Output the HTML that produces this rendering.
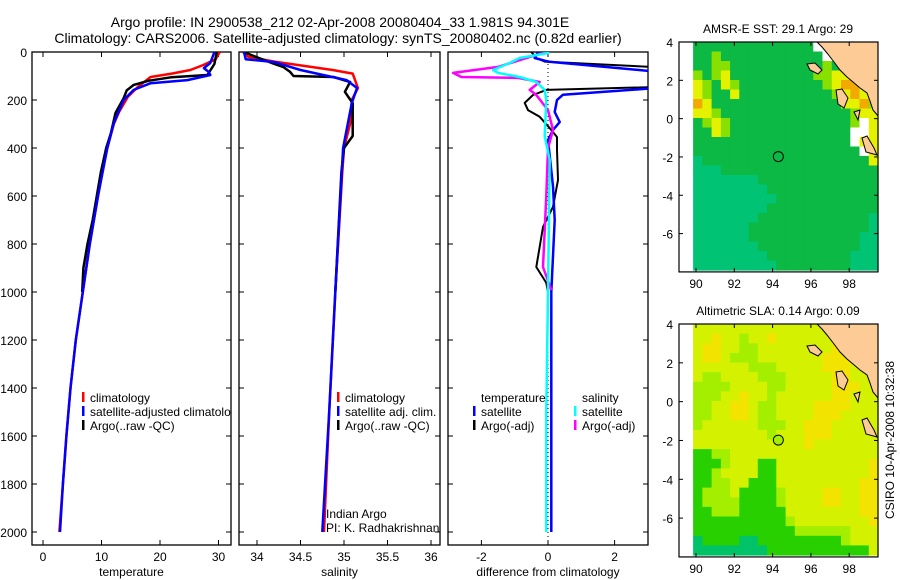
<!DOCTYPE html>
<html><head><meta charset="utf-8"><style>
html,body{margin:0;padding:0;background:#fff;}
svg{display:block;font-family:"Liberation Sans",sans-serif;}
text{font-size:12px;fill:#000;}
</style></head><body>
<svg id="fig" width="900" height="580" viewBox="0 0 900 580" xmlns="http://www.w3.org/2000/svg">
<defs>
<clipPath id="c1"><rect x="32" y="52" width="199" height="493"/></clipPath>
<clipPath id="c2"><rect x="239" y="52" width="201" height="493"/></clipPath>
<clipPath id="c3"><rect x="448" y="52" width="200" height="493"/></clipPath>
<clipPath id="m1"><rect x="679" y="42" width="199" height="230"/></clipPath>
<clipPath id="m2"><rect x="679" y="324" width="199" height="233"/></clipPath>
</defs>
<text x="340" y="27" text-anchor="middle" style="font-size:14px">Argo profile: IN 2900538_212 02-Apr-2008 20080404_33 1.981S 94.301E</text>
<text x="338" y="43" text-anchor="middle" style="font-size:14px">Climatology: CARS2006. Satellite-adjusted climatology: synTS_20080402.nc (0.82d earlier)</text>
<g id="g1"></g>
<g id="g2"></g>
<g id="g3"></g>
<g id="gm1"></g>
<g id="gm2"></g>
<text x="0" y="0" transform="translate(894,440) rotate(-90)" text-anchor="middle">CSIRO 10-Apr-2008 10:32:38</text>
</svg>
<script>
// ---- temperature data ----
const tClimDepth=[0,30,54,75,90,104,146,187,250,300,400,500,600,800,1000,1200,1400,1600,1800,2000];
const tClim=[30.2,29.5,27.4,25.2,22,18.4,16.2,14.5,13,12.1,11,10.1,9.4,8,6.8,5.6,4.7,4.0,3.4,2.8];
const tSatDepth=[0,46,67,83,96,117,130,158,200,296,400,600,800,1000,1200,1400,1600,1800,2000];
const tSat=[29.3,28.6,27.5,28.3,28.6,24.7,18.4,15.5,13.8,12.1,11,9.4,8,6.8,5.6,4.7,4.0,3.4,2.9];
const tArgoDepth=[0,50,96,105,120,137,160,192,254,338,400,500,600,700,800,900,1000];
const tArgo=[29.7,29.3,28.1,22,18,15.5,14.3,13.8,12.4,11.6,10.8,9.9,9.2,8.5,7.6,6.9,6.7];
// ---- salinity data ----
const sClimDepth=[0,20,40,75,90,150,200,300,400,500,1000,1500,2000];
const sClim=[33.84,33.9,34.2,34.87,35.1,35.16,35.09,35.07,35.0,34.98,34.9,34.83,34.77];
const sSatDepth=[0,30,42,75,117,150,213,400,1000,1500,2000];
const sSat=[33.85,33.87,34.2,34.5,35.03,35.15,35.09,34.99,34.9,34.83,34.75];
const sArgoDepth=[0,15,50,62,83,100,104,125,166,187,213,350,400,500,1000];
const sArgo=[33.85,33.95,34.2,34.3,34.38,34.42,34.88,35.07,35.01,35.05,35.1,35.1,35.0,34.97,34.9];
// ---- difference data ----
const dTSatDepth=[0,25,40,85,148,178,200,250,292,325,367,560,700,1000,1500,2000];
const dTSat=[-0.3,-0.4,0,3.5,3.5,0.45,0.27,0.2,0.35,0.15,0,0.15,0.2,0.1,0.1,0.1];
const dTArgoDepth=[0,25,40,65,145,158,179,212,242,270,317,354,408,533,645,729,896,962,1000];
const dTArgo=[-0.5,-0.35,-0.1,3.5,3.5,-0.05,-0.45,-0.7,-0.6,-0.25,0.05,0.27,0.27,0.3,0.15,-0.15,-0.35,-0.05,0];
const dSSatDepth=[0,4,25,46,75,87,104,125,158,200,350,450,1000,1500,2000];
const dSSat=[0,0,-0.85,-1.15,-1.65,-1.5,-0.85,-0.35,-0.1,-0.05,-0.1,0.05,0,-0.05,-0.05];
const dSArgoDepth=[0,12,62,87,104,108,125,158,179,242,325,400,600,896,992];
const dSArgo=[0,-0.35,-1.5,-2.85,-2.6,-0.9,-0.25,-0.55,-0.35,0,0.15,0,-0.05,-0.15,0.1];
// ---- tick labels ----
const depthTicks=[0,200,400,600,800,1000,1200,1400,1600,1800,2000];
const tTicks=[0,10,20,30];
const sTicks=[34,34.5,35,35.5,36];
const dTicks=[-2,0,2];
const lonTicks=[90,92,94,96,98];
const latTicks=[4,2,0,-2,-4,-6];
// ---- map grids (coded colour classes) ----
const sstGrid=["bbbbbbbbbbbbbwwwwwww","bbcbbbbbbbbbbbwwwwww","bbccbbbbbbbbbbcbbrrw","cbcybbbbbbbbbccyyroy","ycbycbbbbbbbbbcyooyc","ycbbybbbbbbbbbbcyoyc","oybbbbbbbbbbbbbbyyoc","yycbbbbbbbbbbbbbbcyy","bcycbbbbbbbbbbbbbcwy","bbycbbbbbbbbbbbbbwwy","bbbbbbbbbbbbbbbbbwyy","bbbbbbbbbbbbbbbbbbwy","abbbbbbbbbbbbbbbbbby","aaabbbbbbbbbbbbbbbbb","aaaaaaabbbbbbbbbbbbb","aaaaaaaabbbbbbbbbbbb","aaaaaaaaabbbbbbbbbbb","aaaaaaaabbbbbbbbbbbb","aaaaaaabbbbbbbbbbbba","aaaaaabbbbbbbbbbbbba","aaaaaabbbbbbbbbbbbaa","aaaaaaabbbbbbbbbbbaa","aaaaaaaabbbbbbbbbaaa","aaaaaaaaabbbbbbbbaaa"];
const slaGrid=["yyyyyyyyyyyyyyyyyyyy","yyYyylyyYyyyyyyyyyyy","yYYyyllyyyyyyyyYYyyy","yYYylllyyyyyyyYYYyyy","yyyyyylllyyyyyYYYyyy","yllyyyylllyyyyyYYyyy","llllyyyyllyyyyyYYYyy","lllyyYyylyyyyyyYYyyy","llyyYYyllyyyyYYYYyyy","llyyYYyllyyyyYYYyyyy","lyyyyyylllyyYYYyyyyy","yyyyyyyylyyyYYYyyyyy","yyyyyyyyyyyyYyyyyyyy","ggllyyyyyyyyyyyyyyyy","ggglyyyggyyyyyyyyyyY","gglyyyyggyyyyyyyyyyY","ggllyygggyyyyyyyyyYY","glllygggglyyyyYYyyYY","gllllgggglyyyyYYyyYY","gglllgggggyyyyyyyyYY","gggggggggglyyyyyyyyY","gggggggggggllllllyyy","tggggttggggggggglyyy","ttttttttgggggggggggy"];
const sstArgoLon=94.3, sstArgoLat=-1.98;

const NS="http://www.w3.org/2000/svg";
function mk(tag,attrs,parent){const e=document.createElementNS(NS,tag);for(const k in attrs)e.setAttribute(k,attrs[k]);parent.appendChild(e);return e;}
const depthY=d=>52+d*0.24;

function panel(g,x0,x1,xs,ticks,fmt,label,clip,showY){
  for(const d of depthTicks){const y=depthY(d);
    mk('line',{x1:x0,y1:y,x2:x0+5,y2:y,stroke:'#000'},g);
    mk('line',{x1:x1-5,y1:y,x2:x1,y2:y,stroke:'#000'},g);
    if(showY){const t=mk('text',{x:27,y:y+5,'text-anchor':'end'},g);t.textContent=d;
      
      }
  }
  for(const v of ticks){const x=xs(v);
    mk('line',{x1:x,y1:545,x2:x,y2:540,stroke:'#000'},g);
    mk('line',{x1:x,y1:52,x2:x,y2:57,stroke:'#000'},g);
    const t=mk('text',{x:x,y:561,'text-anchor':'middle'},g);t.textContent=fmt(v);
    
    }
  const r=mk('rect',{x:x0,y:52,width:x1-x0,height:493,fill:'none',stroke:'#000','stroke-width':1.3},g);
  
  
  const t=mk('text',{x:(x0+x1)/2,y:576,'text-anchor':'middle'},g);t.textContent=label;
  
  
}
function series(g,xs,depths,vals,color,clip,name,w){
  let d='';for(let i=0;i<depths.length;i++){d+=(i?'L':'M')+xs(vals[i]).toFixed(1)+','+depthY(depths[i]).toFixed(1);}
  const p=mk('path',{d:d,fill:'none',stroke:color,'stroke-width':w||2.5,'clip-path':'url(#'+clip+')','stroke-linejoin':'round'},g);
  
  
}
function legend(g,x,y,color,label,clip){
  if(color){const m=mk('rect',{x:x,y:y-10,width:2.5,height:10,fill:color},g);
    
    }
  const t=mk('text',{x:x+8,y:y,'clip-path':clip?'url(#'+clip+')':''},g);t.textContent=label;
  
  
}
// Panel 1
const g1=document.getElementById('g1');const xt=v=>43+5.85*v;
panel(g1,32,231,xt,tTicks,v=>v,'temperature','c1',true);
series(g1,xt,tClimDepth,tClim,'#ff0000','c1','temp-climatology-line');
series(g1,xt,tArgoDepth,tArgo,'#000000','c1','temp-argo-line');
series(g1,xt,tSatDepth,tSat,'#0000ff','c1','temp-satellite-line');
legend(g1,82,402,'#ff0000','climatology','c1');
legend(g1,82,416,'#0000ff','satellite-adjusted climatology','c1');
legend(g1,82,430,'#000000','Argo(..raw -QC)','c1');
// Panel 2
const g2=document.getElementById('g2');const xsS=v=>257+87*(v-34);
panel(g2,239,440,xsS,sTicks,v=>v,'salinity','c2',false);
series(g2,xsS,sClimDepth,sClim,'#ff0000','c2','sal-climatology-line');
series(g2,xsS,sArgoDepth,sArgo,'#000000','c2','sal-argo-line');
series(g2,xsS,sSatDepth,sSat,'#0000ff','c2','sal-satellite-line');
legend(g2,337,402,'#ff0000','climatology');
legend(g2,337,416,'#0000ff','satellite adj. clim.');
legend(g2,337,430,'#000000','Argo(..raw -QC)');
const ia=mk('text',{x:326,y:518},g2);ia.textContent='Indian Argo';


const pi=mk('text',{x:326,y:532},g2);pi.textContent='PI: K. Radhakrishnan';


// Panel 3
const g3=document.getElementById('g3');const xd=v=>548+33.3*v;
panel(g3,448,648,xd,dTicks,v=>v,'difference from climatology','c3',false);
const zl=mk('line',{x1:xd(0),y1:52,x2:xd(0),y2:545,stroke:'#000','stroke-dasharray':'1,3'},g3);


series(g3,xd,dTArgoDepth,dTArgo,'#000000','c3','temp-argo-diff-line',2);
series(g3,xd,dTSatDepth,dTSat,'#0000ff','c3','temp-satellite-diff-line',2.5);
series(g3,xd,dSArgoDepth,dSArgo,'#ff00ff','c3','sal-argo-diff-line',2.5);
series(g3,xd,dSSatDepth,dSSat,'#00ffff','c3','sal-satellite-diff-line',2.5);
legend(g3,473,402,null,'temperature');
legend(g3,473,416,'#0000ff','satellite');
legend(g3,473,430,'#000000','Argo(-adj)');
legend(g3,574,402,null,'salinity');
legend(g3,574,416,'#00ffff','satellite');
legend(g3,574,430,'#ff00ff','Argo(-adj)');
// Maps
const sstCol={a:'#00c474',b:'#0cb944',c:'#88e000',y:'#e4f200',o:'#f2aa00',r:'#b01800',w:'#ffffff'};
const slaCol={Y:'#f2e400',y:'#d4f200',l:'#a4ee00',g:'#28d000',t:'#00c266'};
function map(g,grid,cols,top,bot,title,argoFill,clip){
  const lonX=l=>696+(l-90)*19.15;
  const latY=la=>top+(4-la)*(bot-top)/11.9;
  const bottomAx=latY(-8), scale=(bot-top)/11.9;
  const x0=lonX(89.85),x1=878,cw=(x1-x0)/20,ch=(latY(-7.9)-top)/24;
  grid.forEach((row,r)=>{for(let c=0;c<row.length;c++){
    const cell=mk('rect',{x:(x0+c*cw).toFixed(1),y:(top+r*ch).toFixed(1),width:(cw+0.6).toFixed(1),height:(ch+0.6).toFixed(1),fill:cols[row[c]]},g);
    
    }});
  const o=top-42;
  const land=mk('path',{d:`M817,${42+o}L822,${47+o}L827,${53+o}L834,${62+o}L840,${70+o}L847,${77+o}L853,${82+o}L860,${88+o}L867,${93+o}L870,${101+o}L873,${110+o}L878,${116+o}L878,${42+o}Z`,fill:'#fccb96',stroke:'#000','stroke-width':1},g);
  
  
  [[`M807,${64+o}L815,${63+o}L822,${70+o}L818,${74+o}L810,${70+o}Z`],[`M836,${90+o}L842,${89+o}L848,${98+o}L844,${108+o}L838,${104+o}Z`],[`M862,${138+o}L867,${136+o}L874,${148+o}L877,${155+o}L866,${152+o}Z`],[`M854,${112+o}L860,${110+o}L858,${120+o}Z`]].forEach(p=>{
    const is=mk('path',{d:p[0],fill:'#fccb96',stroke:'#000','stroke-width':1},g);
    
    });
  const circ=mk('circle',{cx:lonX(sstArgoLon),cy:latY(sstArgoLat),r:5,fill:argoFill,stroke:'#000','stroke-width':1},g);
  
  
  const fr=mk('rect',{x:679,y:top,width:199,height:bottomAx-top,fill:'none',stroke:'#000','stroke-width':1.2},g);
  
  
  for(const l of lonTicks){const x=lonX(l);
    mk('line',{x1:x,y1:bottomAx,x2:x,y2:bottomAx-4,stroke:'#000'},g);
    mk('line',{x1:x,y1:top,x2:x,y2:top+4,stroke:'#000'},g);
    const t=mk('text',{x:x,y:bottomAx+16,'text-anchor':'middle'},g);t.textContent=l;
    
    }
  for(const la of latTicks){const y=latY(la);
    mk('line',{x1:679,y1:y,x2:683,y2:y,stroke:'#000'},g);
    mk('line',{x1:874,y1:y,x2:878,y2:y,stroke:'#000'},g);
    const t=mk('text',{x:673,y:y+5,'text-anchor':'end'},g);t.textContent=la;
    
    }
  const tt=mk('text',{x:778,y:top-9,'text-anchor':'middle'},g);tt.textContent=title;
  
  
}
map(document.getElementById('gm1'),sstGrid,sstCol,42,270,'AMSR-E SST: 29.1 Argo: 29','none','m1');
map(document.getElementById('gm2'),slaGrid,slaCol,324,555,'Altimetric SLA: 0.14 Argo: 0.09','#a4ee00','m2');
</script>
</body></html>
